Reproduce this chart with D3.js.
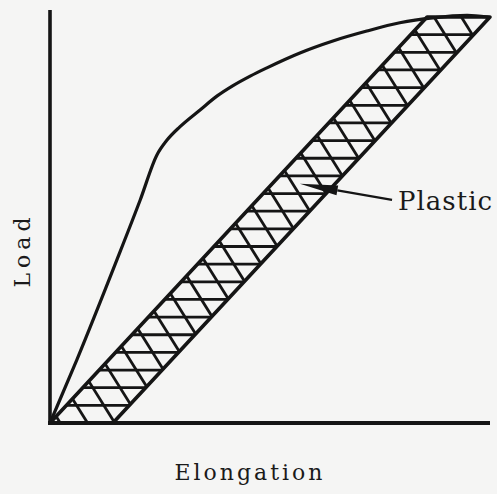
<!DOCTYPE html>
<html>
<head>
<meta charset="utf-8">
<script src="https://cdn.jsdelivr.net/npm/d3@7"></script>
<style>
  html, body { margin: 0; padding: 0; background: #f5f5f4; }
  svg { display: block; }
  text { font-family: "DejaVu Serif", "Liberation Serif", serif; fill: #1a1a1a; }
</style>
</head>
<body>
<div id="chart"></div>
<script>
// load-elongation curve
let elong = [0, 6.1, 15.2, 20.5, 24.3, 26.6, 29.5, 34.1, 38.0, 41.6, 45.5, 49.3, 56.8, 64.3, 72.0, 79.5, 87.0, 94.8, 99.5];
let load  = [0, 15.3, 39.5, 54.0, 64.9, 68.5, 71.7, 75.8, 79.2, 81.7, 84.0, 86.0, 89.6, 92.5, 94.9, 96.9, 98.1, 98.7, 98.3];

// plastic band (parallelogram) corners
let bandX = [0, 14.3, 100, 85.7];
let bandY = [0, 0, 98.3, 98.3];

let hatchRows = 23;        // horizontal hatch intervals
let diagStart = 2.34, diagStep = 6.2, diagCount = 27, diagSlope = 1.705;

let plasticTip = [56.8, 57.9];
let plasticLabel = [79.1, 51.6];

let width = 497, height = 494;
let x = d3.scaleLinear().domain([0, 100]).range([50, 490]);
let y = d3.scaleLinear().domain([0, 100]).range([423, 10]);

let svg = d3.select("#chart").append("svg")
    .attr("width", width).attr("height", height);

let ink = "#151515";

// hatched band
let band = bandX.map(function(d, i) { return [x(d), y(bandY[i])]; });
svg.append("clipPath").attr("id", "bandClip")
    .append("path").attr("d", "M" + band.join("L") + "Z");

let hatch = svg.append("g").attr("clip-path", "url(#bandClip)")
    .attr("stroke", ink).attr("stroke-width", 2.8);

let rows = d3.range(1, hatchRows).map(function(k) { return bandY[2] * k / hatchRows; });
hatch.selectAll("line.row").data(rows).enter().append("line")
    .attr("class", "row")
    .attr("x1", x(0)).attr("x2", x(100))
    .attr("y1", function(d) { return y(d); })
    .attr("y2", function(d) { return y(d); });

let diags = d3.range(diagCount).map(function(k) { return diagStart + diagStep * k; });
hatch.selectAll("line.diag").data(diags).enter().append("line")
    .attr("class", "diag")
    .attr("x1", function(d) { return x(d); }).attr("y1", y(0))
    .attr("x2", function(d) { return x(d - 100 / diagSlope); }).attr("y2", y(100));

svg.append("path").attr("d", "M" + band.join("L") + "Z")
    .attr("fill", "none").attr("stroke", ink).attr("stroke-width", 3.6)
    .attr("stroke-linejoin", "round");

// loading curve
let pts = elong.map(function(d, i) { return [d, load[i]]; });
let line = d3.line().x(function(d) { return x(d[0]); }).y(function(d) { return y(d[1]); })
    .curve(d3.curveMonotoneX);
svg.append("path").datum(pts).attr("d", line)
    .attr("fill", "none").attr("stroke", ink).attr("stroke-width", 3.2)
    .attr("stroke-linecap", "round");

// axes
svg.append("line").attr("x1", x(0)).attr("x2", x(0))
    .attr("y1", y(0) + 1).attr("y2", y.range()[1])
    .attr("stroke", ink).attr("stroke-width", 3.6);
svg.append("line").attr("x1", x(0) - 2).attr("x2", x.range()[1])
    .attr("y1", y(0)).attr("y2", y(0))
    .attr("stroke", ink).attr("stroke-width", 4);

// Plastic annotation
let tx = x(plasticTip[0]), ty = y(plasticTip[1]);
let lx = x(plasticLabel[0]) - 6, ly = y(plasticLabel[1]) - 10;
let ang = Math.atan2(ly - ty, lx - tx);
let bx = tx + 38 * Math.cos(ang), by = ty + 38 * Math.sin(ang);
let nx = -Math.sin(ang) * 5, ny = Math.cos(ang) * 5;
svg.append("line").attr("x1", bx).attr("y1", by).attr("x2", lx).attr("y2", ly)
    .attr("stroke", ink).attr("stroke-width", 2.2);
svg.append("path")
    .attr("d", "M" + [tx, ty] + "L" + [bx + nx, by + ny] + "L" + [bx - nx, by - ny] + "Z")
    .attr("fill", ink);

svg.append("text").attr("x", x(plasticLabel[0])).attr("y", y(plasticLabel[1]))
    .style("font-size", "26px").style("letter-spacing", "1px")
    .text("Plastic");

svg.append("text").attr("x", 250).attr("y", 480)
    .attr("text-anchor", "middle")
    .style("font-size", "22px").style("letter-spacing", "3px")
    .text("Elongation");

svg.append("text").attr("transform", "translate(30,250) rotate(-90)")
    .attr("text-anchor", "middle")
    .style("font-size", "22px").style("letter-spacing", "5px")
    .text("Load");
</script>
</body>
</html>
